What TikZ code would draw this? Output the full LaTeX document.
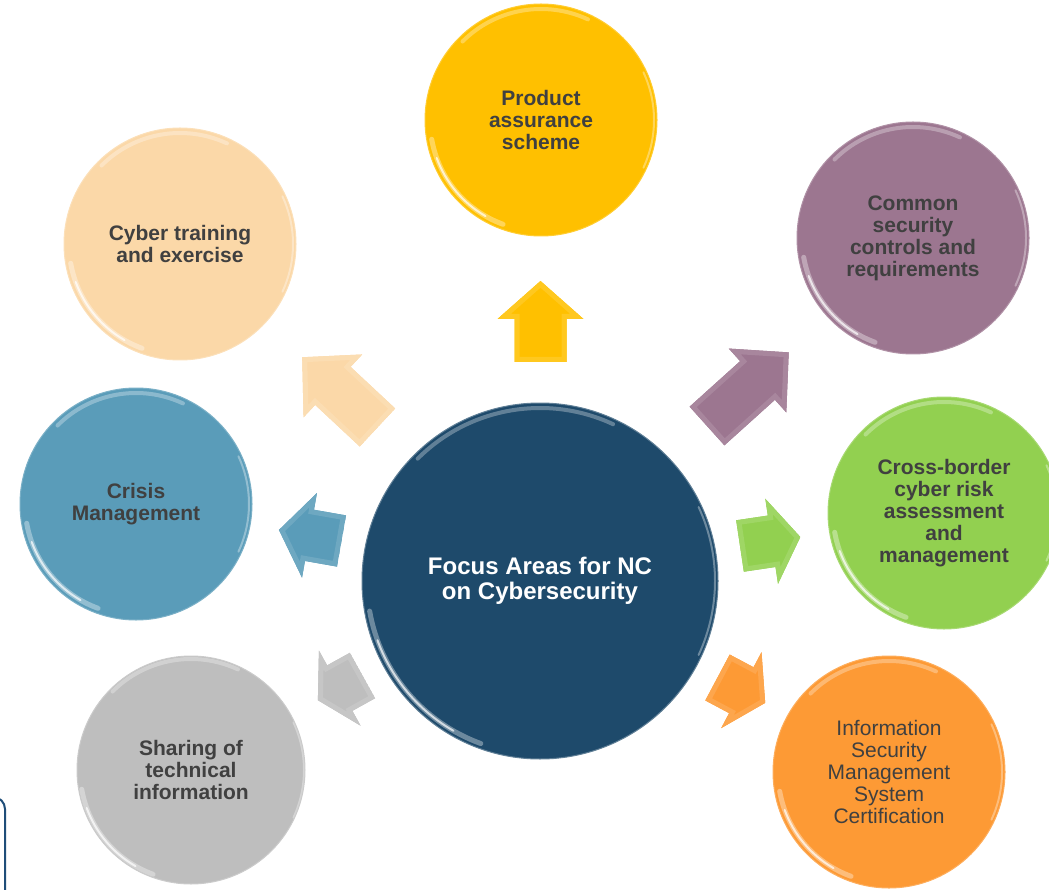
\documentclass[tikz,border=0pt]{standalone}
\usepackage{fontspec}
\setmainfont{Liberation Sans}
\definecolor{hubcol}{HTML}{1E4A6B}
\definecolor{prodcol}{HTML}{FFC000}
\definecolor{traincol}{HTML}{FBD8A8}
\definecolor{commoncol}{HTML}{9C7690}
\definecolor{crosscol}{HTML}{92D050}
\definecolor{crisiscol}{HTML}{5A9CB9}
\definecolor{sharecol}{HTML}{BEBEBE}
\definecolor{ismscol}{HTML}{FD9A35}
\definecolor{labelcol}{HTML}{404040}
\definecolor{framecol}{HTML}{1F4E79}
\tikzset{
  glass/.style={path picture={
    \draw[white,opacity=.3,line width=4pt,line cap=round] (path picture bounding box.center) ++(65:#1pt-5pt) arc[start angle=65,end angle=135,radius=#1pt-5pt];
    \draw[white,opacity=.35,line width=5pt,line cap=round] (path picture bounding box.center) ++(190:#1pt-5pt) arc[start angle=190,end angle=250,radius=#1pt-5pt];
    \draw[white,opacity=.7,line width=2pt,line cap=round] (path picture bounding box.center) ++(200:#1pt-5pt) arc[start angle=200,end angle=240,radius=#1pt-5pt];
    \draw[white,opacity=.35,line width=2pt,line cap=round] (path picture bounding box.center) ++(-25:#1pt-3pt) arc[start angle=-25,end angle=25,radius=#1pt-3pt];
  }},
  area/.style={circle,minimum size=232pt,inner sep=0pt,align=center,text=labelcol,fill=#1,draw=#1!80!white,line width=1pt,glass=116,font=\fontsize{21}{22}\selectfont\bfseries},
  hubarea/.style={circle,minimum size=356pt,inner sep=0pt,align=center,text=white,fill=hubcol,draw=hubcol!70!white,line width=1pt,glass=178,font=\fontsize{24}{25}\selectfont\bfseries},
}
\newcommand{\focusarrow}[6]{%
  \begin{scope}[shift={(#2,#3)},rotate=#4]
    \clip (0,-26) -- (#5-#6,-26) -- (#5-#6,-43) -- (#5,0) -- (#5-#6,43) -- (#5-#6,26) -- (0,26) -- cycle;
    \fill[#1] (0,-45) rectangle (#5,45);
    \draw[#1!88!white,line width=10pt,line join=miter] (0,-26) -- (#5-#6,-26) -- (#5-#6,-43) -- (#5,0) -- (#5-#6,43) -- (#5-#6,26) -- (0,26) -- cycle;
  \end{scope}}

\begin{document}
\begin{tikzpicture}[x=1pt,y=-1pt]
\useasboundingbox (0,0) rectangle (1049,890);
\clip (0,0) rectangle (1049,890);
\draw[framecol,line width=2pt] (-20,797) -- (-7,797) arc[start angle=90,end angle=0,radius=12pt] -- (5,900);

\node[hubarea] (hub) at (540,581) {Focus Areas for NC\\on Cybersecurity};
\node[area=prodcol] (product) at (541,120) {Product\\assurance\\scheme};
\node[area=traincol] (training) at (180,244) {Cyber training\\and exercise};
\node[area=commoncol] (common) at (913,238) {Common\\security\\controls and\\requirements};
\node[area=crosscol] (crossborder) at (944,513) {Cross-border\\cyber risk\\assessment\\and\\management};
\node[area=crisiscol] (crisis) at (136,504) {Crisis\\Management};
\node[area=sharecol,minimum size=228pt] (sharing) at (191,770) {Sharing of\\technical\\information};
\node[area=ismscol,font=\fontsize{21}{22}\selectfont] (isms) at (889,772) {Information\\Security\\Management\\System\\Certification};

\focusarrow{prodcol}{540.5}{362}{90}{81}{38}
\focusarrow{traincol}{377.5}{427.5}{137}{103}{42}
\focusarrow{commoncol}{707}{426}{42}{110}{42}
\focusarrow{crosscol}{740}{546}{8.5}{61}{29}
\focusarrow{crisiscol}{341.5}{541}{170}{63.5}{31}
\focusarrow{sharecol}{362.5}{675.5}{-151}{51}{25}
\focusarrow{ismscol}{717.5}{677.5}{-28}{54}{27}
\end{tikzpicture}
\end{document}
